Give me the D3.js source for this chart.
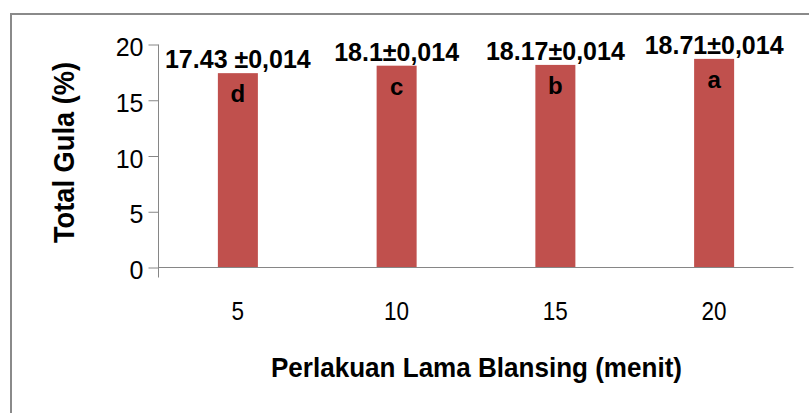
<!DOCTYPE html>
<html><head><meta charset="utf-8">
<script src="https://cdn.jsdelivr.net/npm/d3@7"></script>
<style>html,body{margin:0;padding:0;background:#fff;}svg{display:block;font-family:"Liberation Sans",Arial,sans-serif;}</style>
</head><body>
<svg id="c" width="809" height="413"></svg>
<script>
const categories = ["5", "10", "15", "20"];
const values = [17.43, 18.1, 18.17, 18.71];
const valueLabels = ["17.43 \u00B10,014", "18.1\u00B10,014", "18.17\u00B10,014", "18.71\u00B10,014"];
const letters = ["d", "c", "b", "a"];
const yTicks = [0, 5, 10, 15, 20];

const svg = d3.select("#c");
const axisColor = "#868686";

// outer border
svg.append("rect").attr("x", 11).attr("y", 14).attr("width", 820).attr("height", 420)
  .attr("fill", "none").attr("stroke", "#8a8a8a").attr("stroke-width", 2);

const x = d3.scaleBand().domain(categories).range([158.5, 793.5]).paddingInner(0.748).paddingOuter(0.374);
const y = d3.scaleLinear().domain([0, 20]).range([267.5, 44.5]);

// bars
svg.selectAll("rect.bar").data(values).join("rect").attr("class", "bar")
  .attr("x", (d, i) => x(categories[i])).attr("width", x.bandwidth())
  .attr("y", d => y(d)).attr("height", d => y(0) - y(d))
  .attr("fill", "#C0504D");

// y axis
const yAxis = svg.append("g").attr("transform", "translate(158.5,0)")
  .call(d3.axisLeft(y).tickValues(yTicks).tickSize(10).tickPadding(5).tickFormat(d3.format("d")));
yAxis.select(".domain").remove();
yAxis.selectAll(".tick line").attr("stroke", axisColor);
yAxis.selectAll(".tick text").attr("font-size", 25).attr("fill", "#000").attr("dy", "0.44em")
  .attr("font-family", "'Liberation Sans',Arial,sans-serif");
// vertical axis line (extends below zero)
svg.append("line").attr("x1", 158.5).attr("x2", 158.5).attr("y1", y(20)).attr("y2", y(0) + 10)
  .attr("stroke", axisColor);

// x axis
const xAxis = svg.append("g").attr("transform", `translate(0,${y(0)})`)
  .call(d3.axisBottom(x).tickSize(0).tickPadding(0));
xAxis.select(".domain").attr("stroke", axisColor).attr("d", "M158.5,0H793.5");
xAxis.selectAll(".tick text").attr("font-size", 25).attr("fill", "#000").attr("dy", 0).attr("y", 0)
  .attr("transform", "translate(0,52.5) scale(0.9,1)")
  .attr("font-family", "'Liberation Sans',Arial,sans-serif");

// value labels
svg.selectAll("text.val").data(values).join("text").attr("class", "val")
  .attr("x", (d, i) => x(categories[i]) + x.bandwidth() / 2)
  .attr("y", d => y(d) - 5)
  .attr("text-anchor", "middle").attr("font-size", 25).attr("font-weight", "bold")
  .text((d, i) => valueLabels[i]);

// letters
svg.selectAll("text.let").data(values).join("text").attr("class", "let")
  .attr("x", (d, i) => x(categories[i]) + x.bandwidth() / 2)
  .attr("y", d => y(d) + 29)
  .attr("text-anchor", "middle").attr("font-size", 24).attr("font-weight", "bold")
  .text((d, i) => letters[i]);

// axis titles
svg.append("text").attr("x", 476.5).attr("y", 377).attr("text-anchor", "middle")
  .attr("font-size", 28).attr("font-weight", "bold")
  .attr("textLength", 411).attr("lengthAdjust", "spacingAndGlyphs")
  .text("Perlakuan Lama Blansing (menit)");
svg.append("text").attr("transform", "translate(74,152.5) rotate(-90)").attr("text-anchor", "middle")
  .attr("font-size", 30).attr("font-weight", "bold")
  .attr("textLength", 181).attr("lengthAdjust", "spacingAndGlyphs")
  .text("Total Gula (%)");
</script>
</body></html>
